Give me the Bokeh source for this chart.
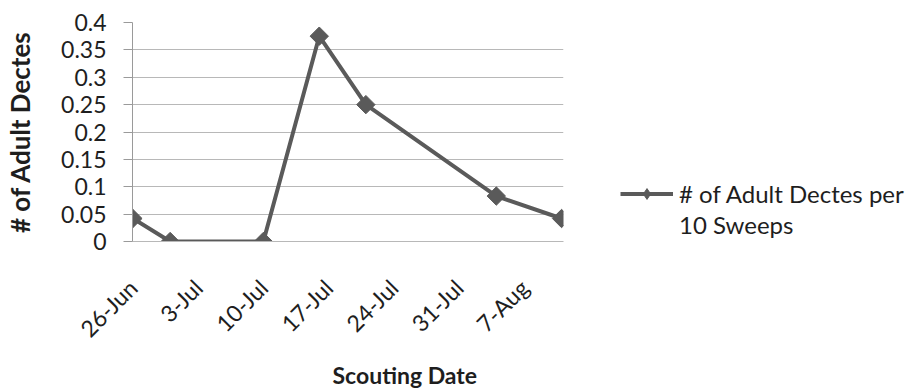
from datetime import datetime, timedelta
import numpy as np
from bokeh.plotting import figure
from bokeh.layouts import row
from bokeh.models import (FixedTicker, DatetimeTickFormatter, NumeralTickFormatter,
                          Range1d, Legend, LegendItem, Title, ColumnDataSource)
from bokeh.embed import file_html
from bokeh.resources import INLINE

# ---- data ----
dates = ["2010-06-26", "2010-06-30", "2010-07-10", "2010-07-16",
         "2010-07-21", "2010-08-04", "2010-08-11"]
values = [0.042, 0.0, 0.0, 0.375, 0.25, 0.083, 0.042]
tick_dates = ["2010-06-26", "2010-07-03", "2010-07-10", "2010-07-17",
              "2010-07-24", "2010-07-31", "2010-08-07"]
y_ticks = [0, 0.05, 0.1, 0.15, 0.2, 0.25, 0.3, 0.35, 0.4]
series_label_1 = "# of Adult Dectes per"
series_label_2 = "10 Sweeps"
x_title = "Scouting Date"
y_title = "# of Adult Dectes"

FONT = "Lato"
LINE_COL = "#5a5a5a"
TEXT_COL = "#1e1e1e"
ANG = np.pi / 4

dts = [datetime.strptime(d, "%Y-%m-%d") for d in dates]
epoch = datetime(1970, 1, 1)
def ms(dt):
    return (dt - epoch).total_seconds() * 1000.0

src = ColumnDataSource(dict(x=dts, y=values, a=[ANG] * len(values)))

MAIN_W = 590
TOP, BOTTOM = 22, 149
p = figure(width=MAIN_W, height=391, x_axis_type="datetime",
           x_range=Range1d(ms(dts[0] - timedelta(hours=1)), ms(dts[-1] + timedelta(hours=5))),
           y_range=Range1d(0, 0.4),
           output_backend="svg", toolbar_location=None,
           min_border_left=132, min_border_right=MAIN_W - 563,
           min_border_top=TOP, min_border_bottom=BOTTOM)
p.outline_line_color = None
p.background_fill_color = "white"
p.border_fill_color = "white"

# grid
p.xgrid.grid_line_color = None
p.ygrid.grid_line_color = "#b8b8b8"
p.ygrid.grid_line_width = 1

# y axis
p.yaxis.ticker = FixedTicker(ticks=y_ticks)
p.yaxis.formatter = NumeralTickFormatter(format="0.[00]")
p.yaxis.axis_line_color = "#9a9a9a"
p.yaxis.major_tick_line_color = "#9a9a9a"
p.yaxis.major_tick_out = 9
p.yaxis.major_tick_in = 0
p.yaxis.minor_tick_line_color = None
p.yaxis.major_label_standoff = 17
p.yaxis.major_label_text_font = FONT
p.yaxis.major_label_text_font_size = "23px"
p.yaxis.major_label_text_color = TEXT_COL
p.yaxis.axis_label = y_title
p.yaxis.axis_label_text_font = FONT
p.yaxis.axis_label_text_font_size = "26px"
p.yaxis.axis_label_text_font_style = "bold"
p.yaxis.axis_label_text_color = TEXT_COL
p.yaxis.axis_label_standoff = 22

# x axis
p.xaxis.ticker = FixedTicker(ticks=[ms(datetime.strptime(d, "%Y-%m-%d")) for d in tick_dates])
fmt = "%-d-%b"
p.xaxis.formatter = DatetimeTickFormatter(days=fmt, months=fmt, hours=fmt, years=fmt)
p.xaxis.axis_line_color = "#b8b8b8"
p.xaxis.major_tick_line_color = None
p.xaxis.minor_tick_line_color = None
p.xaxis.major_label_orientation = np.pi / 4
p.xaxis.major_label_standoff = 36
p.xaxis.major_label_text_font = FONT
p.xaxis.major_label_text_font_size = "23px"
p.xaxis.major_label_text_color = TEXT_COL

# series
p.line("x", "y", source=src, line_color=LINE_COL, line_width=4)
p.scatter("x", "y", source=src, marker="square", angle="a", size=13,
          fill_color=LINE_COL, line_color=LINE_COL)

# x title
p.add_layout(Title(text=x_title, align="left", offset=200, standoff=6,
                   text_font=FONT, text_font_size="23px", text_font_style="bold",
                   text_color=TEXT_COL), "below")

# ---- legend panel (separate figure to the right) ----
LEG_W = 911 - MAIN_W
q = figure(width=LEG_W, height=391, x_range=Range1d(0, 1), y_range=Range1d(0, 1),
           x_axis_location=None, y_axis_location=None,
           output_backend="svg", toolbar_location=None,
           min_border_left=620 - MAIN_W, min_border_right=0,
           min_border_top=TOP, min_border_bottom=BOTTOM)
q.grid.visible = False
q.outline_line_color = None
q.background_fill_color = "white"
q.border_fill_color = "white"

hidden = ColumnDataSource(dict(x=[-5], y=[-5]))
lr = q.line("x", "y", source=hidden, line_color=LINE_COL, line_width=4)
sr = q.scatter("x", "y", source=hidden, marker="diamond", size=15,
               fill_color=LINE_COL, line_color=LINE_COL)
dr = q.line(x=[-5, -4], y=[-5, -4], line_alpha=0)

legend = Legend(items=[LegendItem(label=series_label_1, renderers=[lr, sr]),
                       LegendItem(label=series_label_2, renderers=[dr])],
                location=(0, 2),
                padding=0, margin=0, spacing=2,
                glyph_width=53, glyph_height=27, label_height=27, label_standoff=6,
                label_text_font=FONT, label_text_font_size="24px",
                label_text_color=TEXT_COL,
                border_line_color=None, background_fill_alpha=0)
q.add_layout(legend, "center")

layout = row(p, q, spacing=0)
open("out.html", "w").write(file_html(layout, INLINE))
